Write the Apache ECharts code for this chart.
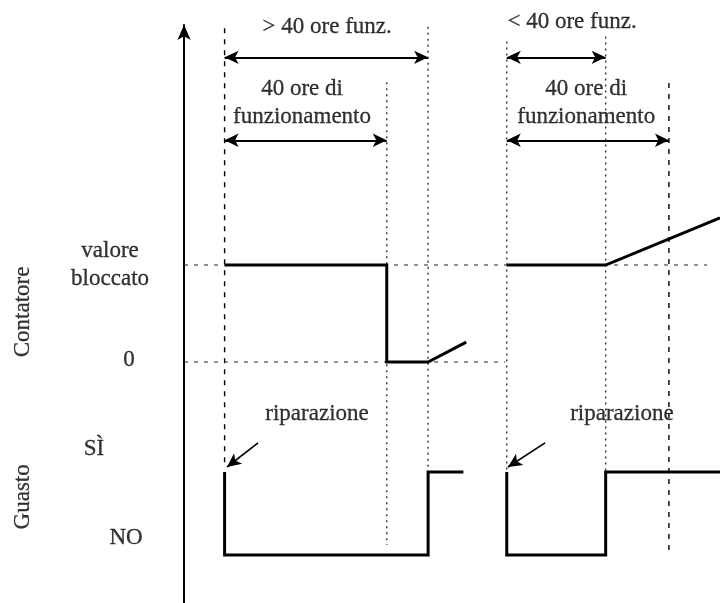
<!DOCTYPE html>
<html>
<head>
<meta charset="utf-8">
<script src="https://cdn.jsdelivr.net/npm/echarts@6/dist/echarts.min.js"></script>
<style>
  html, body { margin: 0; padding: 0; background: #fff; }
  #chart { width: 720px; height: 603px; }
</style>
</head>
<body>
<div id="chart"></div>
<script>
// asse x: ore dall'origine dell'asse verticale
// contatore: 0 .. 40 (valore bloccato) ; guasto: 0 = NO, 1 = SÌ
const counterRun1 = [[10, 40], [50, 40], [50, 0], [60.2, 0], [69.6, 8.2]];
const counterRun2 = [[79.6, 40], [104, 40], [132.2, 59.4]];
const faultRun1 = [[10, 1], [10, 0], [60.2, 0], [60.2, 1], [68.9, 1]];
const faultRun2 = [[79.6, 1], [79.6, 0], [104, 0], [104, 1], [132.2, 1]];

// linee di riferimento: [ora, da, a] sulla scala guasto
const dashedGuides = [[10, 6.35, 1.05], [119.6, 5.69, 0]];
const dottedGuides = [[50, 5.7, 0.12], [60.2, 6.37, 1], [79.6, 6.19, 1], [104, 6.25, 1]];
// livelli del contatore: [livello, ora finale]
const levelGuides = [[40, 129], [0, 79.2]];

// frecce: [da ora, a ora, livello] e [x1, y1, x2, y2]
const spanArrows = [[10, 60.2, 6], [10, 50, 5], [79.6, 104, 6], [79.6, 119.6, 5]];
const repairArrows = [[18.25, 1.35, 10.6, 1.06], [89.05, 1.35, 79.9, 1.06]];

// testi
const counterLabels = [["valore\nbloccato", -18.25, 40], ["0", -13.6, 0.8]];
const faultLabels = [
  ["SÌ", -22.2, 1.28],
  ["NO", -14.3, 0.2],
  ["riparazione", 32.8, 1.7],
  ["riparazione", 108, 1.7],
  ["> 40 ore funz.", 35.3, 6.37],
  ["40 ore di\nfunzionamento", 29.1, 5.45],
  ["< 40 ore funz.", 95.7, 6.43],
  ["40 ore di\nfunzionamento", 99.2, 5.45],
];
const sideTitles = [["Contatore", -39.7, 2.93], ["Guasto", -39.7, 0.7]];

const font = {
  fontFamily: "Liberation Serif",
  fontSize: 23,
  color: "#000",
  lineHeight: 28,
  textBorderColor: "#000",
  textBorderWidth: 0.3,
};

const chart = echarts.init(document.getElementById("chart"));

const lineSeries = (data, yAxisIndex, style) => ({
  type: "line",
  data,
  yAxisIndex,
  symbol: "none",
  silent: true,
  clip: false,
  lineStyle: style,
});

const textSeries = (items, yAxisIndex, extra) => ({
  type: "scatter",
  yAxisIndex,
  symbolSize: 1,
  silent: true,
  clip: false,
  itemStyle: { color: "transparent" },
  label: { show: true, position: "inside", formatter: "{b}", ...font, ...extra },
  data: items.map(([name, t, v]) => ({ name, value: [t, v] })),
});

const signal = { color: "#000", width: 3, join: "miter" };
const dashed = { color: "#000", width: 1.4, type: [5, 6] };
const dotted = { color: "#333", width: 1.4, type: [2, 4] };
const level = { color: "#222", width: 1.1, type: [4, 6] };

const series = [
  ...dashedGuides.map(([t, a, b]) => lineSeries([[t, a], [t, b]], 1, dashed)),
  ...dottedGuides.map(([t, a, b]) => lineSeries([[t, a], [t, b]], 1, dotted)),
  ...levelGuides.map(([v, end]) => lineSeries([[0, v], [end, v]], 0, level)),
  lineSeries(counterRun1, 0, signal),
  lineSeries(counterRun2, 0, signal),
  lineSeries(faultRun1, 1, signal),
  lineSeries(faultRun2, 1, signal),
  {
    type: "line",
    yAxisIndex: 1,
    data: [],
    markLine: {
      silent: true,
      animation: false,
      symbol: ["arrow", "arrow"],
      symbolSize: [10, 14],
      label: { show: false },
      lineStyle: { color: "#000", width: 2, type: "solid" },
      data: [
        ...spanArrows.map(([a, b, y]) => [{ coord: [a, y] }, { coord: [b, y] }]),
        ...repairArrows.map(([x1, y1, x2, y2]) => [
          { coord: [x1, y1], symbol: "none", lineStyle: { width: 1.6 } },
          { coord: [x2, y2] },
        ]),
      ],
    },
  },
  textSeries(counterLabels, 0, {}),
  textSeries(faultLabels, 1, {}),
  textSeries(sideTitles, 1, { rotate: 90 }),
];

chart.setOption({
  animation: false,
  grid: { left: 0, right: 0, top: 25, bottom: 0 },
  xAxis: { type: "value", min: -45.4, max: 132.2, show: false },
  yAxis: [
    {
      type: "value",
      min: -99.4,
      max: 139,
      axisLine: {
        show: true,
        onZero: true,
        symbol: ["none", "arrow"],
        symbolSize: [10, 15],
        lineStyle: { color: "#000", width: 2 },
      },
      axisTick: { show: false },
      axisLabel: { show: false },
      splitLine: { show: false },
    },
    { type: "value", min: -0.58, max: 6.39, show: false },
  ],
  series,
});
</script>
</body>
</html>
